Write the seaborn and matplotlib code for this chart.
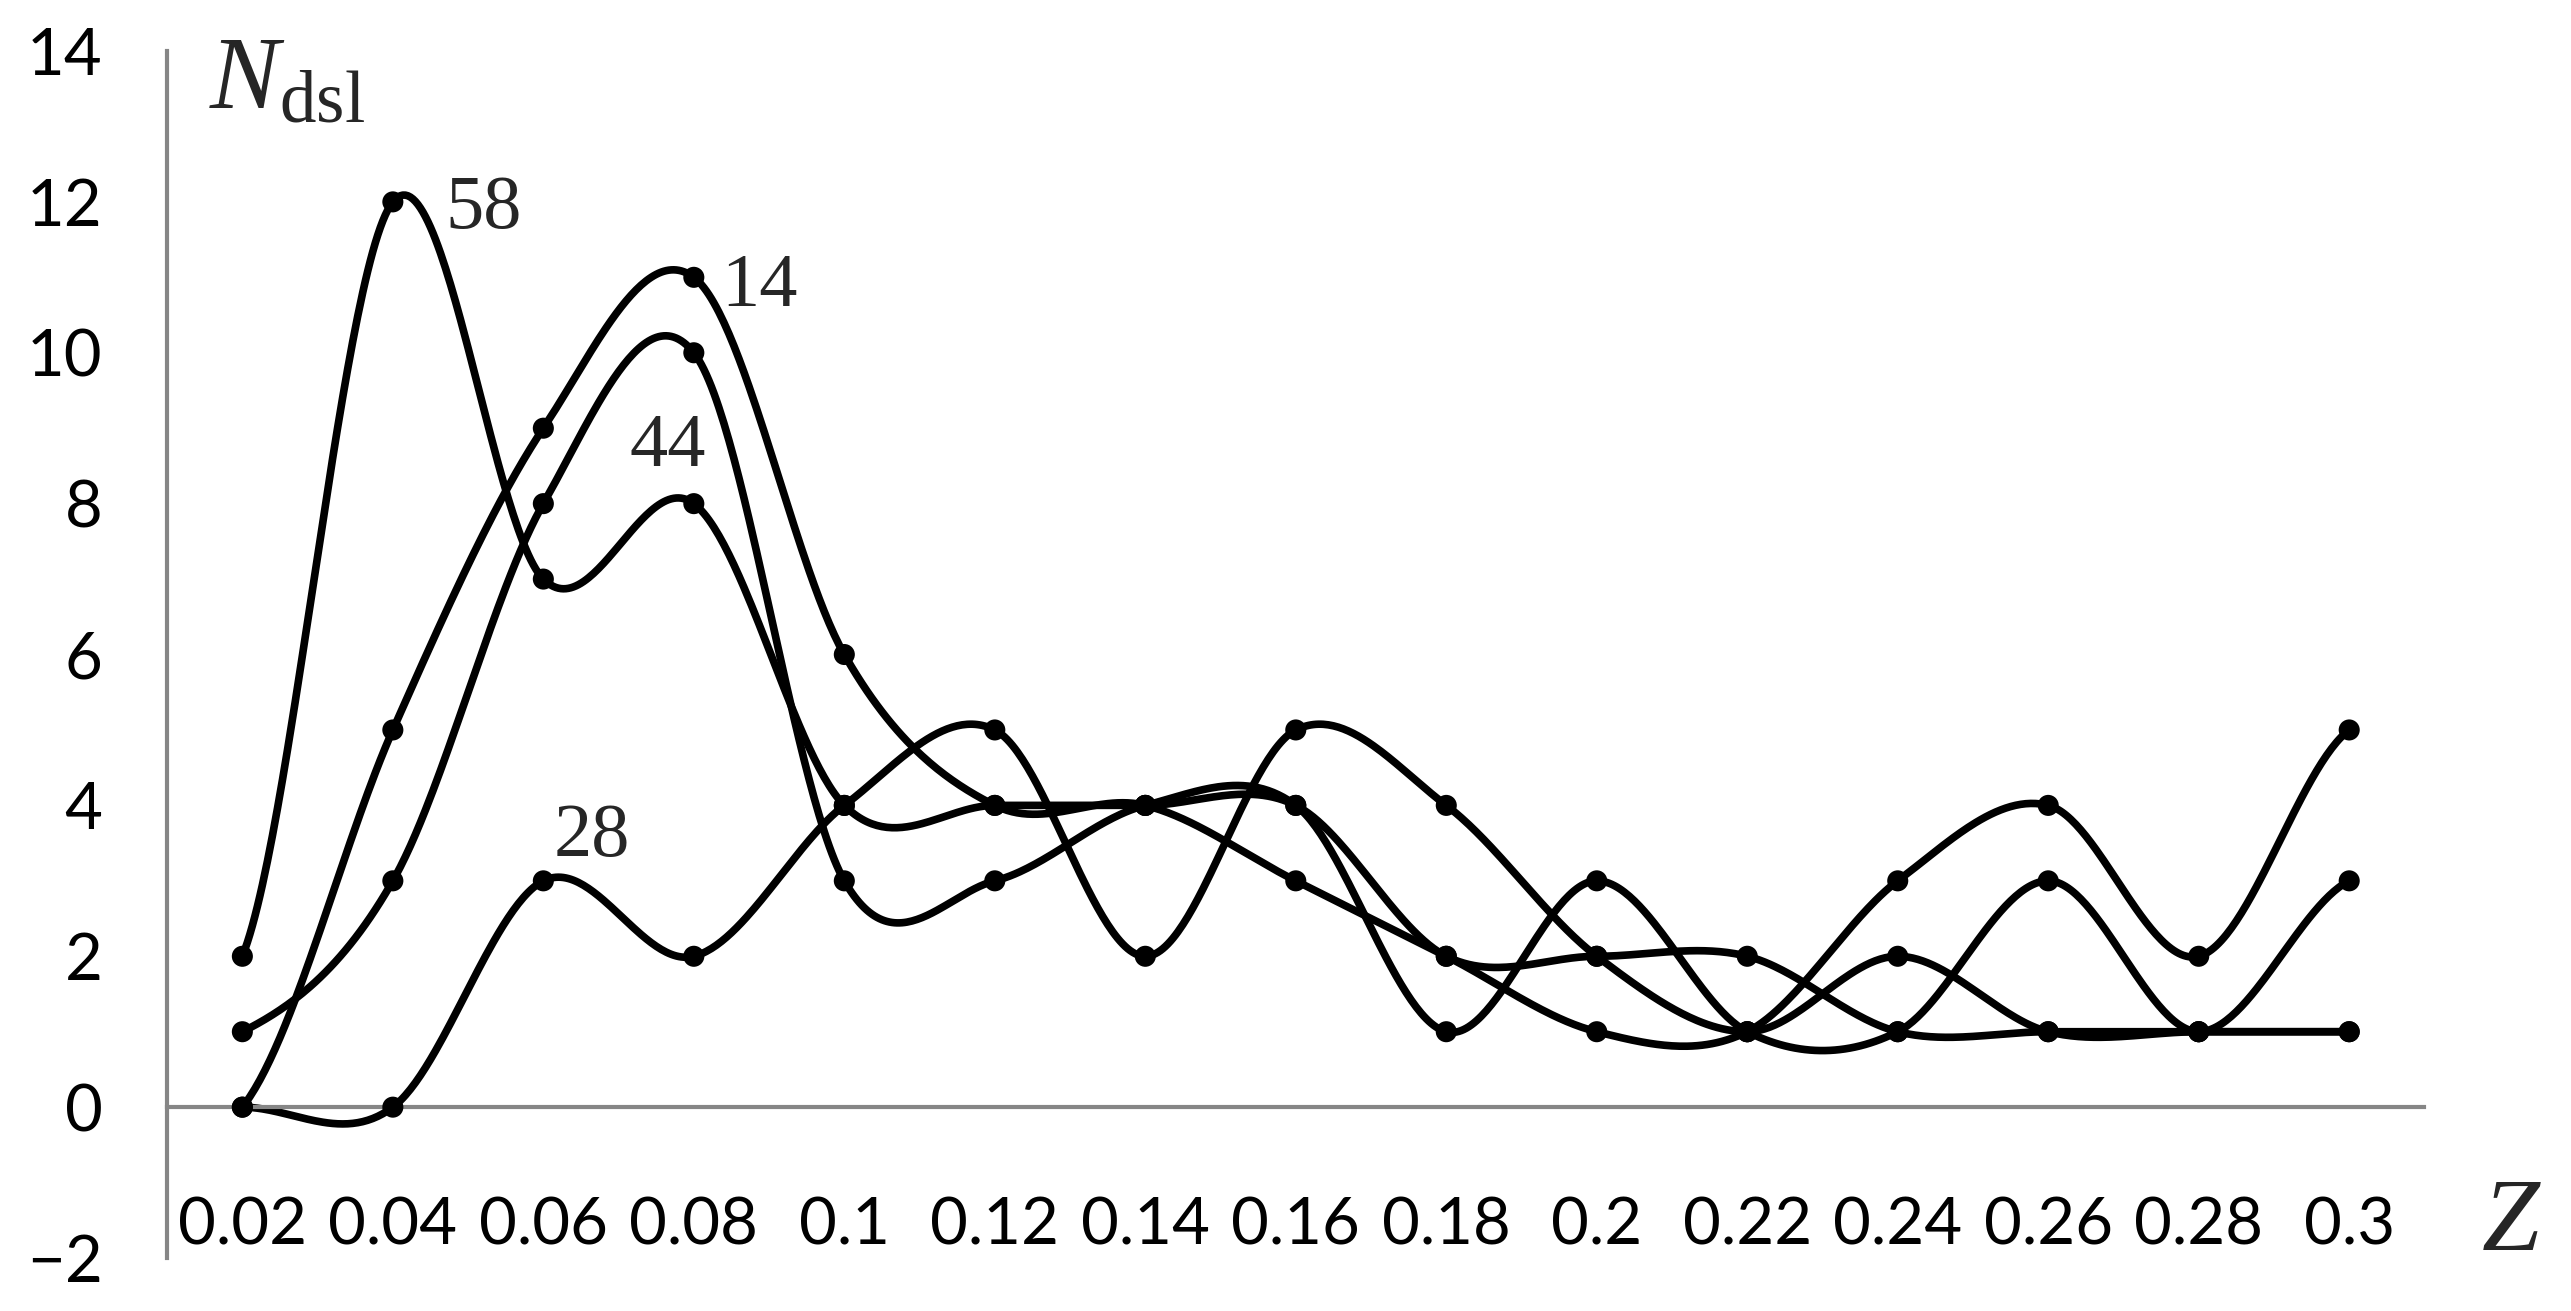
import numpy as np
import pandas as pd
import matplotlib
matplotlib.use("Agg")
import matplotlib.pyplot as plt
import seaborn as sns

# categories on the Z axis
z_labels = ["0.02", "0.04", "0.06", "0.08", "0.1", "0.12", "0.14", "0.16",
            "0.18", "0.2", "0.22", "0.24", "0.26", "0.28", "0.3"]

# N_dsl values per series
s58 = [2, 12, 7, 8, 4, 4, 4, 4, 2, 2, 2, 1, 1, 1, 1]
s14 = [0, 5, 9, 11, 6, 4, 4, 3, 2, 1, 1, 3, 4, 2, 5]
s44 = [1, 3, 8, 10, 3, 3, 4, 4, 1, 3, 1, 1, 3, 1, 3]
s28 = [0, 0, 3, 2, 4, 5, 2, 5, 4, 2, 1, 2, 1, 1, 1]

series = {"58": s58, "14": s14, "44": s44, "28": s28}

y_ticks = [-2, 0, 2, 4, 6, 8, 10, 12, 14]


def smooth(vals, n=60):
    # Catmull-Rom curve through the points, like Excel's "smoothed line"
    y = np.asarray(vals, float)
    p = np.concatenate([[y[0]], y, [y[-1]]])
    t = np.linspace(0, 1, n, endpoint=False)
    xs, ys = [], []
    for i in range(len(y) - 1):
        p0, p1, p2, p3 = p[i], p[i + 1], p[i + 2], p[i + 3]
        m1 = (p2 - p0) / 2
        m2 = (p3 - p1) / 2
        h = ((2 * t**3 - 3 * t**2 + 1) * p1 + (t**3 - 2 * t**2 + t) * m1
             + (-2 * t**3 + 3 * t**2) * p2 + (t**3 - t**2) * m2)
        xs.append(i + t)
        ys.append(h)
    xs.append([len(y) - 1])
    ys.append([y[-1]])
    return np.concatenate(xs), np.concatenate(ys)


curves = []
points = []
for name, vals in series.items():
    cx, cy = smooth(vals)
    curves.append(pd.DataFrame({"x": cx, "y": cy, "s": name}))
    points.append(pd.DataFrame({"x": np.arange(len(vals)), "y": vals, "s": name}))
curves = pd.concat(curves, ignore_index=True)
points = pd.concat(points, ignore_index=True)

sns.set_style("white")
plt.rcParams["font.family"] = ["Lato", "DejaVu Sans"]
plt.rcParams["mathtext.fontset"] = "custom"
plt.rcParams["mathtext.rm"] = "Liberation Serif"
plt.rcParams["mathtext.it"] = "Liberation Serif:italic"

gray = "#868686"
black_pal = {k: "black" for k in series}

fig = plt.figure(figsize=(25.71, 13.11), dpi=100)
ax = fig.add_axes([0.065, 0.0404, 0.878, 0.9207])

sns.lineplot(data=curves, x="x", y="y", hue="s", palette=black_pal, sort=False,
             estimator=None, linewidth=5.5, legend=False, ax=ax)
sns.scatterplot(data=points, x="x", y="y", hue="s", palette=black_pal, s=230,
                linewidth=0, legend=False, ax=ax, zorder=5)

ax.set_xlim(-0.5, len(z_labels) - 0.5)
ax.set_ylim(-2, 14)
ax.set_xlabel("")
ax.set_ylabel("")

for side in ["top", "right"]:
    ax.spines[side].set_visible(False)
ax.spines["left"].set_color(gray)
ax.spines["left"].set_linewidth(3)
ax.spines["bottom"].set_color(gray)
ax.spines["bottom"].set_linewidth(3)
ax.spines["bottom"].set_position(("data", 0))

ax.set_yticks(y_ticks)
ax.set_yticklabels([str(v).replace("-", "\u2212") for v in y_ticks])
ax.tick_params(axis="y", direction="out", length=16.5, width=3, color=gray,
               labelsize=47, pad=30, labelcolor="black")

ax.set_xticks(np.arange(-0.5, len(z_labels), 1.0))
ax.set_xticklabels([])
ax.set_xticks(np.arange(len(z_labels)), z_labels, minor=True)
ax.tick_params(axis="x", which="major", direction="out", length=17.5, width=3,
               color=gray)
ax.tick_params(axis="x", which="minor", direction="out", length=13.5, width=3,
               color=gray, labelsize=47, pad=51, labelcolor="black")

serif = "Liberation Serif"
ax.text(1.35, 11.9, "58", family=serif, fontsize=55, va="center", ha="left")
ax.text(3.18, 10.87, "14", family=serif, fontsize=55, va="center", ha="left")
ax.text(2.57, 8.74, "44", family=serif, fontsize=55, va="center", ha="left")
ax.text(2.07, 3.57, "28", family=serif, fontsize=55, va="center", ha="left")

ax.text(-0.22, 13.24, r"$N_{\mathrm{dsl}}$", fontsize=75, va="baseline", ha="left")
ax.text(15.07, -1.9, "Z", family=serif, style="italic", fontsize=75,
        va="baseline", ha="center", clip_on=False)

fig.savefig("out.png", dpi=100, facecolor="white")
